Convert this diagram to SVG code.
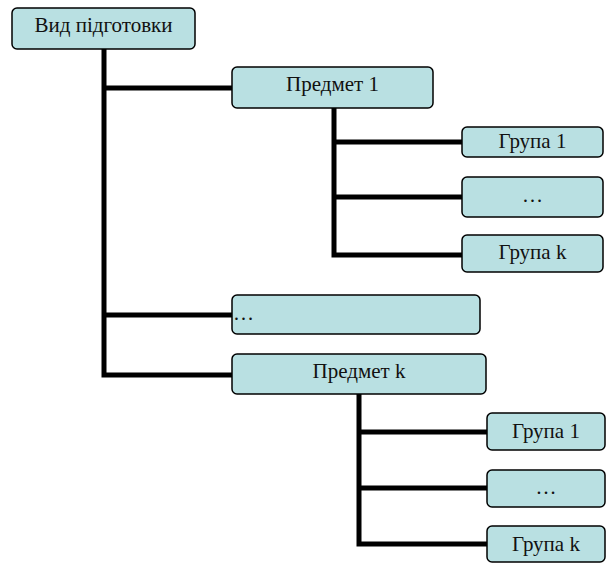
<svg xmlns="http://www.w3.org/2000/svg" width="611" height="563" viewBox="0 0 611 563">
<style>
.box{fill:#b9e0e2;stroke:#000;stroke-width:1.5}
.t{font-family:'Liberation Serif','Times New Roman',serif;font-size:21px;fill:#111;text-anchor:middle}
.c{fill:none;stroke:#000;stroke-width:5;stroke-linejoin:miter}
</style>
<rect width="611" height="563" fill="#fff"/>
<g id="connectors">
<path class="c" d="M104 49 V375 H232 M104 88 H232 M104 315 H232"/>
<path class="c" d="M334 108 V255 H462 M334 142 H462 M334 197 H462"/>
<path class="c" d="M359 394 V544 H487 M359 432 H487 M359 488 H487"/>
</g>
<g id="n-vid"><rect class="box" x="12" y="8" width="183" height="41" rx="5"/><text class="t" x="103.5" y="32">Вид підготовки</text></g>
<g id="n-p1"><rect class="box" x="232" y="67" width="201" height="41" rx="5"/><text class="t" x="332.5" y="91">Предмет 1</text></g>
<g id="n-g1a"><rect class="box" x="462" y="127" width="141" height="30" rx="5"/><text class="t" x="532.5" y="148">Група 1</text></g>
<g id="n-dots1"><rect class="box" x="462" y="177" width="141" height="40" rx="5"/><text class="t" x="532.5" y="202">…</text></g>
<g id="n-gka"><rect class="box" x="462" y="235" width="141" height="37" rx="5"/><text class="t" x="532.5" y="259">Група k</text></g>
<g id="n-dots"><rect class="box" x="232" y="295" width="248" height="39" rx="5"/><text class="t" x="233" y="320" style="text-anchor:start">…</text></g>
<g id="n-pk"><rect class="box" x="232" y="354" width="254" height="40" rx="5"/><text class="t" x="359" y="378">Предмет k</text></g>
<g id="n-g1b"><rect class="box" x="487" y="413" width="118" height="37" rx="5"/><text class="t" x="546" y="438">Група 1</text></g>
<g id="n-dots2"><rect class="box" x="487" y="470" width="118" height="37" rx="5"/><text class="t" x="546" y="494">…</text></g>
<g id="n-gkb"><rect class="box" x="487" y="526" width="118" height="36" rx="5"/><text class="t" x="546" y="551">Група k</text></g>
</svg>
